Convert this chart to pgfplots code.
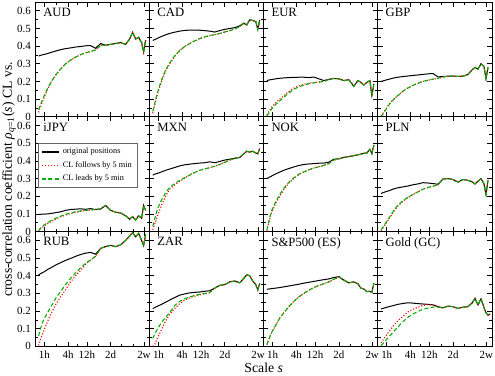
\documentclass[border=0pt]{standalone}
\usepackage{fontspec}
\setmainfont{Liberation Serif}
\usepackage{pgfplots}
\pgfplotsset{compat=1.18}
\usepackage{pgfplotstable}
\usepgfplotslibrary{groupplots}
\usetikzlibrary{calc}

\definecolor{gracegreen}{RGB}{0,175,0}

\tikzset{
  origst/.style={draw=black, line width=0.75pt},
  folst/.style={draw=red, line width=0.85pt, dash pattern=on 0.8pt off 1.4pt},
  leadst/.style={draw=gracegreen, line width=0.8pt, dash pattern=on 3pt off 1.8pt},
}

% columns: scale s [min], original positions, CL follows, CL leads
\pgfplotstableread{
s o f l
43 0.344 0.025 0.04
48 0.348 0.06 0.07
57 0.352 0.10 0.11
72 0.358 0.155 0.16
91 0.365 0.20 0.20
115 0.372 0.235 0.235
155 0.380 0.27 0.27
207 0.386 0.30 0.30
277 0.390 0.32 0.32
372 0.395 0.338 0.338
498 0.398 0.352 0.352
667 0.402 0.362 0.362
893 0.403 0.37 0.37
1196 0.388 0.378 0.378
1602 0.415 0.405 0.405
2145 0.405 0.405 0.405
2873 0.41 0.41 0.41
3848 0.415 0.415 0.415
5154 0.42 0.42 0.42
6904 0.41 0.41 0.41
8720 0.44 0.44 0.44
10390 0.478 0.478 0.478
12380 0.44 0.44 0.44
14760 0.45 0.45 0.45
17590 0.42 0.42 0.42
19770 0.367 0.367 0.367
22220 0.434 0.434 0.434
}\tAUD

\pgfplotstableread{
s o f l
43 0.432 0.02 0.03
48 0.437 0.065 0.075
57 0.445 0.13 0.14
72 0.455 0.20 0.21
91 0.464 0.26 0.265
115 0.472 0.30 0.305
155 0.479 0.343 0.345
207 0.485 0.375 0.375
277 0.489 0.398 0.398
372 0.491 0.415 0.415
498 0.491 0.43 0.43
667 0.490 0.443 0.443
893 0.488 0.452 0.452
1196 0.485 0.46 0.46
1602 0.480 0.465 0.465
2145 0.488 0.472 0.472
2873 0.495 0.48 0.48
3848 0.50 0.488 0.488
5154 0.505 0.497 0.497
6904 0.515 0.51 0.51
8720 0.53 0.53 0.53
10390 0.52 0.52 0.52
12380 0.55 0.55 0.55
14760 0.545 0.545 0.545
17590 0.54 0.54 0.54
19770 0.495 0.495 0.495
22220 0.548 0.548 0.548
}\tCAD

\pgfplotstableread{
s o f l
43 0.205 0.01 0.005
48 0.208 0.03 0.02
57 0.211 0.055 0.045
72 0.215 0.08 0.07
91 0.218 0.10 0.09
115 0.220 0.12 0.11
155 0.222 0.143 0.135
207 0.223 0.162 0.155
277 0.224 0.175 0.17
372 0.224 0.184 0.18
498 0.222 0.19 0.187
667 0.225 0.194 0.192
893 0.215 0.198 0.196
1196 0.205 0.20 0.20
1602 0.212 0.212 0.212
2145 0.217 0.217 0.217
2873 0.215 0.215 0.215
3848 0.205 0.205 0.205
5154 0.21 0.21 0.21
6904 0.172 0.172 0.172
8720 0.205 0.205 0.205
10390 0.195 0.195 0.195
12380 0.18 0.18 0.18
14760 0.195 0.195 0.195
17590 0.205 0.205 0.205
19770 0.12 0.12 0.12
22220 0.186 0.186 0.186
}\tEUR

\pgfplotstableread{
s o f l
43 0.200 0.005 0.0
48 0.203 0.02 0.015
57 0.208 0.045 0.04
72 0.214 0.078 0.075
91 0.220 0.10 0.10
115 0.224 0.12 0.12
155 0.228 0.145 0.145
207 0.231 0.163 0.163
277 0.234 0.178 0.178
372 0.237 0.19 0.19
498 0.240 0.20 0.20
667 0.243 0.207 0.207
893 0.245 0.213 0.213
1196 0.226 0.218 0.218
1602 0.228 0.225 0.225
2145 0.23 0.23 0.23
2873 0.23 0.23 0.23
3848 0.229 0.229 0.229
5154 0.23 0.23 0.23
6904 0.24 0.24 0.24
8720 0.265 0.265 0.265
10390 0.28 0.28 0.28
12380 0.27 0.27 0.27
14760 0.30 0.30 0.30
17590 0.285 0.285 0.285
19770 0.215 0.215 0.215
22220 0.28 0.28 0.28
}\tGBP

\pgfplotstableread{
s o f l
43 0.097 0.0 0.005
48 0.098 0.015 0.02
57 0.099 0.03 0.035
72 0.100 0.045 0.05
91 0.103 0.058 0.063
115 0.107 0.07 0.075
155 0.112 0.083 0.087
207 0.120 0.094 0.098
277 0.125 0.102 0.105
372 0.127 0.109 0.112
498 0.129 0.115 0.117
667 0.126 0.119 0.12
893 0.130 0.122 0.123
1196 0.125 0.125 0.125
1602 0.128 0.128 0.128
2145 0.148 0.148 0.148
2873 0.12 0.12 0.12
3848 0.11 0.11 0.11
5154 0.105 0.105 0.105
6904 0.09 0.09 0.09
8720 0.07 0.07 0.07
10390 0.085 0.085 0.085
12380 0.065 0.065 0.065
14760 0.09 0.09 0.09
17590 0.075 0.075 0.075
19770 0.149 0.149 0.149
22220 0.12 0.12 0.12
}\tJPY

\pgfplotstableread{
s o f l
43 0.320 0.01 0.03
48 0.325 0.04 0.07
57 0.330 0.09 0.13
72 0.338 0.15 0.18
91 0.347 0.20 0.22
115 0.354 0.24 0.25
155 0.363 0.265 0.272
207 0.372 0.285 0.29
277 0.378 0.303 0.305
372 0.382 0.32 0.32
498 0.385 0.335 0.335
667 0.388 0.347 0.347
893 0.390 0.355 0.355
1196 0.395 0.362 0.362
1602 0.390 0.37 0.37
2145 0.397 0.38 0.38
2873 0.405 0.392 0.392
3848 0.41 0.405 0.405
5154 0.415 0.415 0.415
6904 0.42 0.42 0.42
8720 0.44 0.44 0.44
10390 0.455 0.455 0.455
12380 0.45 0.45 0.45
14760 0.455 0.455 0.455
17590 0.445 0.445 0.445
19770 0.44 0.44 0.44
22220 0.47 0.47 0.47
}\tMXN

\pgfplotstableread{
s o f l
43 0.300 0.005 0.01
48 0.306 0.05 0.06
57 0.315 0.11 0.12
72 0.327 0.16 0.17
91 0.337 0.20 0.21
115 0.347 0.238 0.245
155 0.357 0.275 0.28
207 0.366 0.30 0.305
277 0.374 0.322 0.325
372 0.380 0.338 0.338
498 0.383 0.35 0.35
667 0.385 0.36 0.36
893 0.387 0.367 0.367
1196 0.388 0.375 0.375
1602 0.393 0.385 0.385
2145 0.41 0.405 0.405
2873 0.412 0.412 0.412
3848 0.42 0.42 0.42
5154 0.425 0.425 0.425
6904 0.43 0.43 0.43
8720 0.435 0.435 0.435
10390 0.438 0.438 0.438
12380 0.443 0.443 0.443
14760 0.445 0.445 0.445
17590 0.466 0.466 0.466
19770 0.44 0.44 0.44
22220 0.49 0.49 0.49
}\tNOK

\pgfplotstableread{
s o f l
43 0.216 0.005 0.01
48 0.220 0.02 0.025
57 0.226 0.045 0.05
72 0.233 0.08 0.085
91 0.242 0.115 0.12
115 0.248 0.145 0.15
155 0.253 0.172 0.175
207 0.258 0.193 0.195
277 0.265 0.21 0.21
372 0.270 0.225 0.225
498 0.277 0.24 0.24
667 0.275 0.25 0.25
893 0.272 0.257 0.257
1196 0.268 0.265 0.265
1602 0.298 0.298 0.298
2145 0.30 0.30 0.30
2873 0.295 0.295 0.295
3848 0.28 0.28 0.28
5154 0.295 0.295 0.295
6904 0.29 0.29 0.29
8720 0.282 0.282 0.282
10390 0.27 0.27 0.27
12380 0.285 0.285 0.285
14760 0.30 0.30 0.30
17590 0.27 0.27 0.27
19770 0.21 0.21 0.21
22220 0.29 0.29 0.29
}\tPLN

\pgfplotstableread{
s o f l
43 0.405 0.005 0.06
48 0.412 0.04 0.10
57 0.420 0.085 0.15
72 0.435 0.14 0.19
91 0.447 0.19 0.23
115 0.460 0.235 0.27
155 0.474 0.28 0.31
207 0.487 0.32 0.35
277 0.498 0.365 0.385
372 0.510 0.40 0.415
498 0.520 0.43 0.445
667 0.528 0.465 0.47
893 0.532 0.488 0.49
1196 0.522 0.51 0.51
1602 0.555 0.555 0.555
2145 0.565 0.565 0.565
2873 0.572 0.572 0.572
3848 0.565 0.565 0.565
5154 0.575 0.575 0.575
6904 0.60 0.60 0.60
8720 0.625 0.625 0.625
10390 0.645 0.645 0.645
12380 0.62 0.62 0.62
14760 0.64 0.64 0.64
17590 0.60 0.60 0.60
19770 0.57 0.57 0.57
22220 0.635 0.635 0.635
}\tRUB

\pgfplotstableread{
s o f l
43 0.213 0.0 0.045
48 0.220 0.01 0.07
57 0.228 0.05 0.10
72 0.238 0.095 0.135
91 0.250 0.145 0.165
115 0.262 0.18 0.19
155 0.277 0.215 0.232
207 0.290 0.242 0.255
277 0.297 0.262 0.27
372 0.303 0.275 0.28
498 0.306 0.285 0.288
667 0.308 0.292 0.295
893 0.312 0.298 0.30
1196 0.315 0.303 0.305
1602 0.33 0.33 0.33
2145 0.345 0.345 0.345
2873 0.35 0.35 0.35
3848 0.365 0.365 0.365
5154 0.37 0.37 0.37
6904 0.36 0.36 0.36
8720 0.385 0.385 0.385
10390 0.405 0.405 0.405
12380 0.40 0.40 0.40
14760 0.37 0.37 0.37
17590 0.35 0.35 0.35
19770 0.32 0.32 0.32
22220 0.358 0.358 0.358
}\tZAR

\pgfplotstableread{
s o f l
43 0.323 0.01 0.01
48 0.325 0.04 0.04
57 0.327 0.08 0.08
72 0.330 0.12 0.12
91 0.333 0.16 0.16
115 0.337 0.19 0.19
155 0.342 0.225 0.225
207 0.347 0.255 0.255
277 0.352 0.28 0.28
372 0.358 0.30 0.30
498 0.363 0.318 0.318
667 0.368 0.333 0.333
893 0.373 0.345 0.345
1196 0.378 0.355 0.355
1602 0.382 0.365 0.365
2145 0.39 0.38 0.38
2873 0.395 0.392 0.392
3848 0.375 0.375 0.375
5154 0.36 0.36 0.36
6904 0.365 0.365 0.365
8720 0.355 0.355 0.355
10390 0.33 0.33 0.33
12380 0.325 0.325 0.325
14760 0.31 0.31 0.31
17590 0.312 0.312 0.312
19770 0.305 0.305 0.305
22220 0.358 0.358 0.358
}\tSPX

\pgfplotstableread{
s o f l
43 0.212 0.02 0.005
48 0.215 0.035 0.015
57 0.220 0.06 0.035
72 0.226 0.09 0.06
91 0.232 0.12 0.085
115 0.238 0.145 0.11
155 0.243 0.17 0.14
207 0.247 0.195 0.165
277 0.245 0.21 0.183
372 0.242 0.222 0.198
498 0.240 0.232 0.21
667 0.238 0.236 0.217
893 0.235 0.235 0.222
1196 0.225 0.225 0.222
1602 0.218 0.218 0.218
2145 0.228 0.228 0.228
2873 0.225 0.225 0.225
3848 0.215 0.215 0.215
5154 0.222 0.222 0.222
6904 0.225 0.225 0.225
8720 0.245 0.245 0.245
10390 0.272 0.272 0.272
12380 0.235 0.235 0.235
14760 0.27 0.27 0.27
17590 0.22 0.22 0.22
19770 0.19 0.19 0.19
22220 0.177 0.177 0.177
24980 0.183 0.183 0.183
}\tGLD

\newcommand{\panel}[2]{%
  \addplot[origst] table[x=s,y=o] {#1};
  \addplot[folst] table[x=s,y=f] {#1};
  \addplot[leadst] table[x=s,y=l] {#1};
  \node[anchor=north west, inner sep=0pt, font=\fontsize{9.5}{10}\selectfont]
    at (rel axis cs:0.066,0.95) {#2};
}

\begin{document}
\begin{tikzpicture}
\begin{groupplot}[
    group style={group name=G, group size=4 by 3,
                 horizontal sep=0pt, vertical sep=0pt,
                 xticklabels at=edge bottom, yticklabels at=edge left},
    scale only axis, width=85.5pt, height=86pt,
    xmode=log, xmin=35.8, xmax=28070, ymin=0, ymax=0.65,
    xtick={60,240,720,2880,20160},
    xticklabels={1h,4h,12h,2d,2w},
    minor xtick={120,416,1440,5510,10530},
    ytick={0,0.1,0.2,0.3,0.4,0.5,0.6},
    minor ytick={0.05,0.15,0.25,0.35,0.45,0.55},
    xtick pos=both, ytick pos=both, tick align=inside,
    major tick length=3.5pt, minor tick length=2pt,
    every tick/.style={black, line width=0.5pt},
    axis line style={line width=0.6pt},
    tick label style={font=\fontsize{8.2}{9}\selectfont},
    /pgf/number format/assume math mode=true,
    legend style={at={(0.025,0.772)}, anchor=north west, draw=black!60,
                  line width=0.4pt, fill=white, inner xsep=2pt, inner ysep=1.5pt,
                  row sep=0.4pt, font=\fontsize{6.2}{7}\selectfont},
    legend cell align=left,
    legend image code/.code={\draw[#1, line width=1.1pt] (0pt,0pt) -- (13pt,0pt);},
  ]
\nextgroupplot
\panel{\tAUD}{AUD}
\nextgroupplot
\panel{\tCAD}{CAD}
\nextgroupplot
\panel{\tEUR}{EUR}
\nextgroupplot
\panel{\tGBP}{GBP}
\nextgroupplot[legend entries={original positions, CL follows by 5 min, CL leads by 5 min}]
\panel{\tJPY}{iJPY}
\nextgroupplot
\panel{\tMXN}{MXN}
\nextgroupplot
\panel{\tNOK}{NOK}
\nextgroupplot
\panel{\tPLN}{PLN}
\nextgroupplot
\panel{\tRUB}{RUB}
\nextgroupplot
\panel{\tZAR}{ZAR}
\nextgroupplot
\panel{\tSPX}{S\&P500 (ES)}
\nextgroupplot
\panel{\tGLD}{Gold (GC)}
\end{groupplot}
\node[rotate=90, font=\fontsize{10.3}{11}\selectfont]
  at ($(G c1r2.west)+(-19.9pt,-4pt)$)
  {cross-correlation coefficient \textit{ρ}\textsubscript{\textit{q}=1}(\textit{s}) CL vs.};
\node[font=\fontsize{10.3}{11}\selectfont]
  at ($(G c2r3.south east)+(0,-16pt)$) {Scale \textit{s}};
\pgfresetboundingbox
\path[use as bounding box] ($(G c1r1.north west)+(-26.6pt,1.5pt)$)
  rectangle ($(G c4r3.south east)+(2.25pt,-21.75pt)$);
\end{tikzpicture}
\end{document}
